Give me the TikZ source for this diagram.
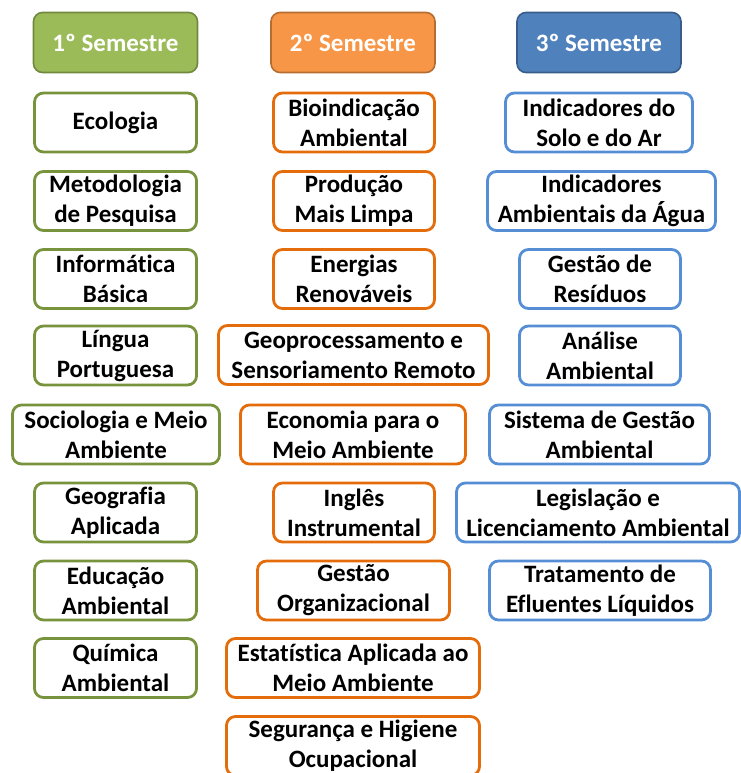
\documentclass[tikz,border=0pt]{standalone}
\usepackage{fontspec}
\setmainfont[Ligatures=NoCommon]{Carlito}
\definecolor{verde}{HTML}{9BBB59}
\definecolor{verdeesc}{HTML}{77933C}
\definecolor{verdecab}{HTML}{71893F}
\definecolor{laranja}{HTML}{F79646}
\definecolor{laranjaesc}{HTML}{E46C0A}
\definecolor{laranjacab}{HTML}{B66D31}
\definecolor{azul}{HTML}{4F81BD}
\definecolor{azulbox}{HTML}{558ED5}
\definecolor{azulcab}{HTML}{385D8A}
\tikzset{
  caixa/.style={draw, line width=2.8pt, rounded corners=9pt, fill=white,
    align=center, font=\fontsize{25}{30}\selectfont\bfseries,
    minimum height=59pt, inner sep=0pt},
  cab/.style={caixa, line width=1.6pt, text=white, minimum width=164pt, minimum height=60pt},
  sem1/.style={caixa, draw=verdeesc},
  sem2/.style={caixa, draw=laranjaesc},
  sem3/.style={caixa, draw=azulbox},
}
\begin{document}
\begin{tikzpicture}[x=1pt,y=-1pt]
    \useasboundingbox (0,0) rectangle (740,773);
    % cabecalhos
    \node[cab, draw=verdecab, fill=verde] (h1) at (115.5,42.5) {1º Semestre};
    \node[cab, draw=laranjacab, fill=laranja] (h2) at (353,42.5) {2º Semestre};
    \node[cab, draw=azulcab, fill=azul] (h3) at (599,42.5) {3º Semestre};
    % 1o semestre
    \node[sem1, minimum width=162pt] (eco) at (115.5,122.5) {Ecologia};
    \node[sem1, minimum width=162pt] (meto) at (115.5,201) {Metodologia\\de Pesquisa};
    \node[sem1, minimum width=162pt] (info) at (115.5,279) {Informática\\Básica};
    \node[sem1, minimum width=162pt] (lingua) at (115.5,355.5) {Língua\\Portuguesa};
    \node[sem1, minimum width=207pt] (socio) at (116,434.5) {Sociologia e Meio\\Ambiente};
    \node[sem1, minimum width=162pt] (geo) at (115.5,512.5) {Geografia\\Aplicada};
    \node[sem1, minimum width=162pt] (edu) at (115.5,590.5) {Educação\\Ambiental};
    \node[sem1, minimum width=162pt] (quim) at (115.5,668) {Química\\Ambiental};
    % 2o semestre
    \node[sem2, minimum width=161pt] (bio) at (354,122.5) {Bioindicação\\Ambiental};
    \node[sem2, minimum width=161pt] (prod) at (354,201) {Produção\\Mais Limpa};
    \node[sem2, minimum width=161pt] (ener) at (354,279) {Energias\\Renováveis};
    \node[sem2, minimum width=270pt] (geop) at (353.5,355) {Geoprocessamento e\\Sensoriamento Remoto};
    \node[sem2, minimum width=225pt] (econ) at (353,434.5) {Economia para o\\Meio Ambiente};
    \node[sem2, minimum width=161pt] (ingl) at (354,512.5) {Inglês\\Instrumental};
    \node[sem2, minimum width=192pt] (gorg) at (353.5,590.5) {Gestão\\Organizacional};
    \node[sem2, minimum width=253pt] (esta) at (353,668) {Estatística Aplicada ao\\Meio Ambiente};
    \node[sem2, minimum width=253pt] (segu) at (353,746) {Segurança e Higiene\\Ocupacional};
    % 3o semestre
    \node[sem3, minimum width=187pt] (solo) at (599,122.5) {Indicadores do\\Solo e do Ar};
    \node[sem3, minimum width=228pt] (agua) at (601.5,201) {Indicadores\\Ambientais da Água};
    \node[sem3, minimum width=161pt] (resi) at (600,279) {Gestão de\\Resíduos};
    \node[sem3, minimum width=161pt] (anal) at (600,355.5) {Análise\\Ambiental};
    \node[sem3, minimum width=220pt] (sist) at (599.5,434.5) {Sistema de Gestão\\Ambiental};
    \node[sem3, minimum width=283pt] (legi) at (598,512.5) {Legislação e\\Licenciamento Ambiental};
    \node[sem3, minimum width=221pt] (trat) at (600,590.5) {Tratamento de\\Efluentes Líquidos};
\end{tikzpicture}
\end{document}
